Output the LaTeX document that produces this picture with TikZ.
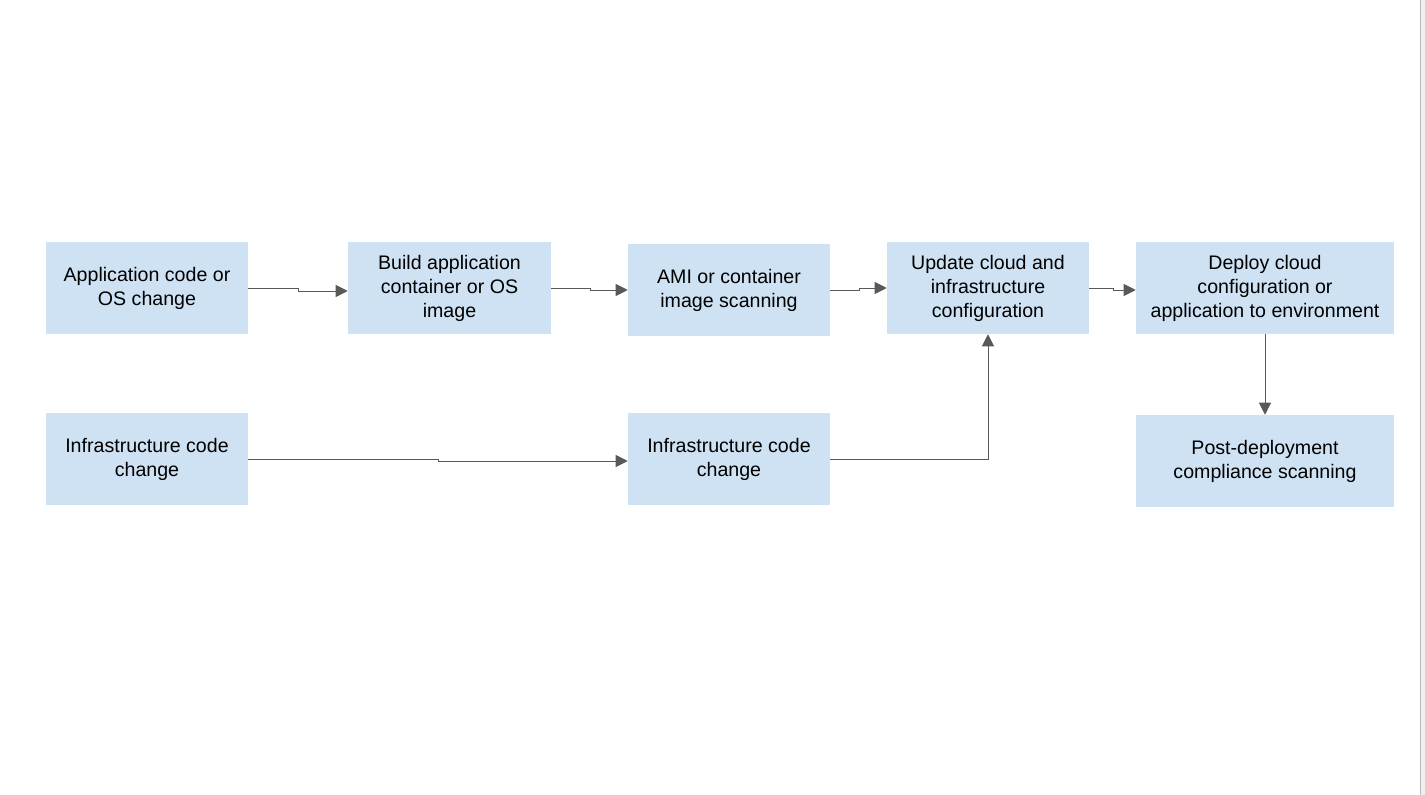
\documentclass[tikz,border=0pt]{standalone}
\usepackage{fontspec}
\setmainfont{Liberation Sans}
\usetikzlibrary{arrows.meta}
\definecolor{boxblue}{HTML}{CFE2F3}
\definecolor{linegray}{HTML}{595959}
\tikzset{
  stage/.style={fill=boxblue, draw=none, minimum width=202*0.75pt, minimum height=92*0.75pt,
    align=center, inner sep=0pt, font=\fontsize{14.7}{18}\selectfont},
  widestage/.style={stage, minimum width=258*0.75pt},
  flow/.style={draw=linegray, line width=0.75pt, -{Triangle[length=9pt,width=9pt]}}
}
\begin{document}
\begin{tikzpicture}[x=0.75pt, y=-0.75pt]
\useasboundingbox (0,0) rectangle (1425,795);
\fill[gray!12] (1421,0) rectangle (1425,795);
\draw[gray!55, line width=1pt] (1420.5,0) -- (1420.5,795);
% top row
\node[stage] (app) at (147,288) {Application code or\\OS change};
\node[stage, minimum width=203*0.75pt] (build) at (449.5,288) {Build application\\container or OS\\image};
\node[stage] (scan) at (729,290) {AMI or container\\image scanning};
\node[stage] (update) at (988,288) {Update cloud and\\infrastructure\\configuration};
\node[widestage] (deploy) at (1265,288) {Deploy cloud\\configuration or\\application to environment};
% bottom row
\node[stage] (infra) at (147,459) {Infrastructure code\\change};
\node[stage] (iac) at (729,459) {Infrastructure code\\change};
\node[widestage] (post) at (1265,461) {Post-deployment\\compliance scanning};
% connectors
\draw[flow] (app.east) -- ++(50,0) |- ([yshift=-2.25pt]build.west);
\draw[flow] (build.east) -- ++(39,0) |- (scan.west);
\draw[flow] (scan.east) -- ++(29,0) |- (update.west);
\draw[flow] (update.east) -- ++(24,0) |- ([yshift=-1.5pt]deploy.west);
\draw[flow] (deploy.south) -- ++(0,40) -| (post.north);
\draw[flow] (infra.east) -- ++(190,0) |- ([yshift=-1.5pt]iac.west);
\draw[flow] (iac.east) -| (update.south);
\end{tikzpicture}
\end{document}
